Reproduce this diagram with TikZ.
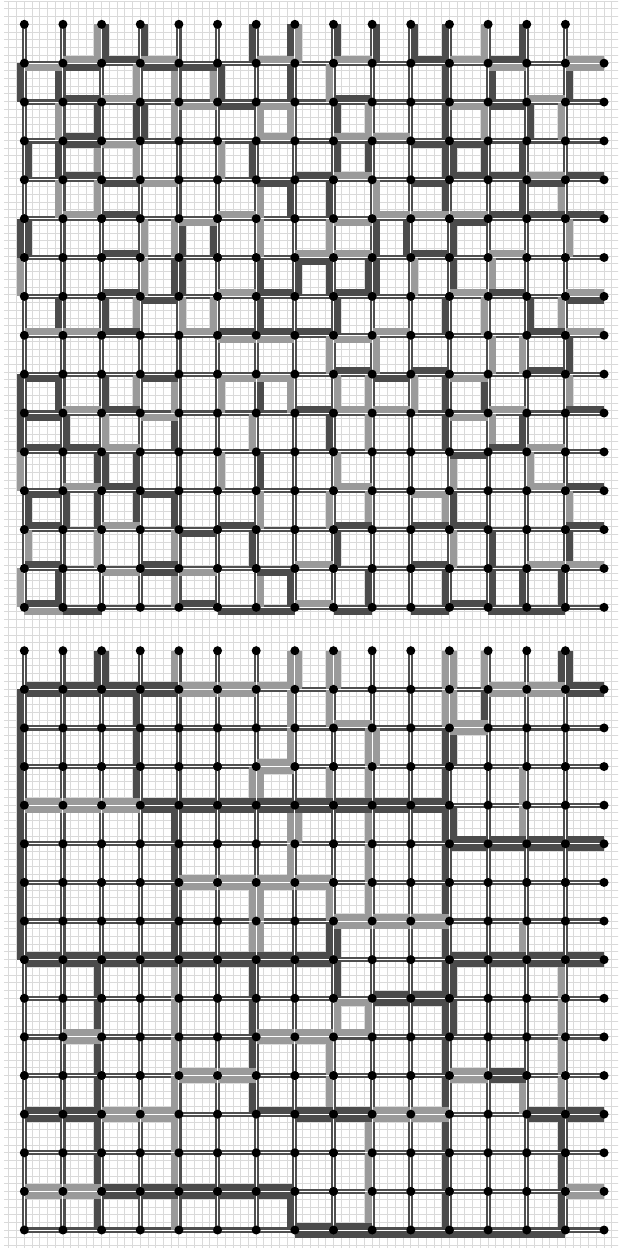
\documentclass[tikz,border=0pt]{standalone}
\usetikzlibrary{backgrounds}
\definecolor{dk}{HTML}{4B4B4B}
\definecolor{lt}{HTML}{9A9A9A}
\definecolor{edgeCol}{HTML}{4F4F4F}
\definecolor{gridCol}{HTML}{DADADA}
\pgfdeclarelayer{edges}
\pgfdeclarelayer{bands}
\pgfdeclarelayer{cores}
\pgfsetlayers{background,edges,bands,cores,main}

\begin{document}
\begin{tikzpicture}[x=1pt, y=-1pt,
    site/.style={circle, fill=black, inner sep=0pt, minimum size=9pt},
    bond/.style={line width=5.2pt, draw=edgeCol},
    core/.style={line width=1pt, draw=white},
    band/.style={line cap=butt},
    gridline/.style={draw=gridCol, line width=0.9pt}
]
\useasboundingbox (0,0) rectangle (621,1249);

% =====================================================================
% FINE GRID
% =====================================================================
\begin{scope}[on background layer]
    \clip (4,2) rectangle (618,1247);
    \draw[gridline, step=7.73pt, shift={(24.3pt,-24.3pt)}] (-25pt,25pt) grid (600pt,-1230pt);
\end{scope}

% =====================================================================
% SITES OF THE TWO LATTICES (t = top, b = bottom)
% =====================================================================
\foreach \p/\yo/\ys in {t/24.3/38.87, b/650.7/38.62} {
    \begin{scope}[shift={(24.3pt,-\yo pt)}, x=38.65pt, y=-\ys pt]
        \foreach \c in {0,...,14} \node[site] (\p-\c-0) at (\c,0) {};
        \foreach \r in {1,...,15}
            \foreach \c in {0,...,15} \node[site] (\p-\c-\r) at (\c,\r) {};
    \end{scope}
}

% =====================================================================
% BONDS
% =====================================================================
\begin{pgfonlayer}{edges}
    \foreach \p in {t,b}
        \foreach \c in {0,...,14} {
            \pgfmathtruncatemacro\cc{\c+1}
            \foreach \r in {0,...,14} {
                \pgfmathtruncatemacro\rr{\r+1}
                \draw[bond] (\p-\c-\r.center) -- (\p-\c-\rr.center);
                \draw[bond] (\p-\c-\rr.center) -- (\p-\cc-\rr.center);
            }
        }
\end{pgfonlayer}
\begin{pgfonlayer}{cores}
    \foreach \p in {t,b}
        \foreach \c in {0,...,14} {
            \pgfmathtruncatemacro\cc{\c+1}
            \foreach \r in {0,...,14} {
                \pgfmathtruncatemacro\rr{\r+1}
                \draw[core] (\p-\c-\r.center) -- (\p-\c-\rr.center);
                \draw[core] (\p-\c-\rr.center) -- (\p-\cc-\rr.center);
            }
        }
\end{pgfonlayer}

% =====================================================================
% BANDS: column/row/side/colour (side -1 = left or up, 1 = right or down, 0 = both)
% =====================================================================
\begin{pgfonlayer}{bands}
    % Top lattice, vertical bonds
    \foreach \c/\r/\s/\k in {
        2/0/-1/lt, 2/0/1/dk, 3/0/1/dk, 6/0/-1/dk, 7/0/-1/dk, 7/0/1/lt, 8/0/1/dk, 9/0/1/dk, 10/0/1/dk, 11/0/-1/dk, 12/0/-1/lt, 13/0/-1/dk,
        0/1/-1/dk, 1/1/-1/dk, 3/1/-1/lt, 4/1/-1/lt, 5/1/-1/lt, 5/1/1/dk, 7/1/-1/dk, 8/1/-1/lt, 11/1/-1/dk, 12/1/1/dk, 14/1/1/dk,
        1/2/-1/lt, 2/2/-1/dk, 3/2/0/dk, 4/2/-1/lt, 6/2/1/lt, 7/2/-1/lt, 8/2/1/dk, 9/2/-1/lt, 11/2/-1/dk, 12/2/-1/lt, 13/2/1/dk, 14/2/-1/lt,
        0/3/1/dk, 1/3/-1/dk, 2/3/-1/lt, 3/3/-1/lt, 5/3/1/lt, 6/3/-1/dk, 8/3/1/dk, 9/3/-1/dk, 11/3/0/dk, 12/3/-1/dk, 13/3/-1/dk,
        1/4/-1/lt, 2/4/-1/lt, 6/4/1/lt, 7/4/-1/dk, 8/4/-1/dk, 9/4/1/lt, 11/4/-1/dk, 13/4/-1/dk, 14/4/-1/lt,
        0/5/0/dk, 3/5/1/lt, 4/5/-1/lt, 4/5/1/dk, 5/5/-1/dk, 6/5/1/lt, 8/5/-1/lt, 9/5/1/dk, 10/5/-1/dk, 11/5/1/dk, 14/5/1/lt,
        0/6/-1/lt, 3/6/1/lt, 4/6/0/dk, 6/6/1/dk, 7/6/1/dk, 8/6/-1/dk, 9/6/0/dk, 10/6/1/lt, 11/6/1/dk, 12/6/1/lt,
        1/7/-1/dk, 2/7/1/dk, 3/7/-1/lt, 4/7/1/lt, 5/7/-1/lt, 6/7/1/dk, 8/7/1/dk, 11/7/-1/dk, 12/7/-1/lt, 13/7/1/dk, 14/7/-1/lt,
        8/8/-1/lt, 9/8/1/lt, 12/8/1/lt, 13/8/-1/lt, 14/8/1/dk,
        0/9/-1/dk, 1/9/-1/dk, 2/9/1/dk, 3/9/-1/lt, 4/9/-1/lt, 5/9/1/lt, 6/9/1/dk, 7/9/-1/lt, 8/9/1/lt, 9/9/-1/lt, 10/9/1/lt, 11/9/-1/dk, 12/9/-1/dk, 14/9/1/lt,
        0/10/-1/dk, 1/10/1/dk, 2/10/1/lt, 4/10/-1/dk, 6/10/-1/lt, 8/10/-1/dk, 9/10/-1/lt, 11/10/-1/dk, 12/10/1/lt, 13/10/-1/dk,
        0/11/-1/lt, 2/11/0/dk, 3/11/-1/dk, 5/11/1/lt, 6/11/1/dk, 8/11/1/lt, 11/11/1/lt, 13/11/1/lt,
        0/12/1/dk, 1/12/1/dk, 2/12/-1/dk, 3/12/-1/dk, 4/12/-1/dk, 6/12/1/lt, 8/12/-1/lt, 9/12/-1/lt, 11/12/-1/lt, 11/12/1/dk, 14/12/1/lt,
        0/13/1/lt, 2/13/-1/lt, 4/13/-1/lt, 6/13/-1/dk, 8/13/1/dk, 11/13/1/lt, 12/13/1/dk, 14/13/1/dk,
        0/14/-1/lt, 1/14/-1/dk, 4/14/-1/lt, 6/14/1/lt, 7/14/-1/dk, 9/14/-1/dk, 11/14/-1/dk, 12/14/1/dk, 13/14/-1/dk, 14/14/-1/dk} {
        \pgfmathtruncatemacro\rr{\r+1}
        \draw[band, line width={(15-8*abs(\s))*1pt}, draw=\k]
            ([xshift=\s*4pt]t-\c-\r.center) -- ([xshift=\s*4pt]t-\c-\rr.center);
    }
    % Top lattice, horizontal bonds
    \foreach \c/\r/\s/\k in {
        0/1/1/lt, 1/1/-1/lt, 1/1/1/dk, 2/1/-1/dk, 3/1/-1/lt, 3/1/1/dk, 4/1/1/dk, 6/1/-1/lt, 8/1/-1/lt, 10/1/-1/dk, 11/1/-1/lt, 12/1/-1/dk, 12/1/1/lt, 14/1/0/lt,
        1/2/-1/dk, 2/2/-1/lt, 4/2/1/lt, 5/2/1/dk, 6/2/1/lt, 8/2/-1/dk, 11/2/1/lt, 12/2/1/dk, 13/2/-1/lt,
        1/3/0/dk, 2/3/1/lt, 6/3/-1/lt, 8/3/-1/lt, 9/3/-1/lt, 10/3/1/dk, 11/3/1/dk,
        1/4/-1/dk, 2/4/1/dk, 3/4/1/lt, 6/4/1/dk, 7/4/-1/dk, 8/4/-1/lt, 10/4/1/dk, 11/4/-1/dk, 12/4/-1/dk, 13/4/-1/lt, 13/4/1/dk, 14/4/-1/dk,
        1/5/-1/lt, 2/5/-1/dk, 4/5/1/lt, 5/5/-1/lt, 8/5/1/lt, 9/5/-1/lt, 10/5/-1/lt, 11/5/-1/lt, 11/5/1/dk, 12/5/-1/dk, 13/5/-1/dk, 14/5/-1/dk,
        2/6/-1/dk, 7/6/-1/lt, 7/6/1/dk, 8/6/-1/lt, 10/6/-1/dk, 12/6/-1/lt,
        2/7/-1/dk, 3/7/1/dk, 5/7/-1/lt, 6/7/-1/dk, 8/7/-1/dk, 11/7/-1/lt, 12/7/-1/dk, 14/7/-1/lt, 14/7/1/dk,
        0/8/-1/lt, 1/8/-1/lt, 2/8/-1/dk, 4/8/-1/lt, 5/8/-1/dk, 5/8/1/lt, 6/8/-1/dk, 6/8/1/lt, 7/8/-1/dk, 8/8/1/lt, 9/8/-1/lt, 13/8/-1/dk, 14/8/-1/lt,
        0/9/1/dk, 3/9/1/dk, 5/9/1/lt, 6/9/1/lt, 8/9/-1/dk, 9/9/1/dk, 10/9/-1/dk, 11/9/1/lt, 13/9/-1/dk,
        0/10/1/dk, 1/10/-1/lt, 2/10/-1/dk, 3/10/1/lt, 7/10/-1/dk, 8/10/-1/lt, 9/10/-1/lt, 11/10/1/lt, 12/10/-1/lt, 14/10/-1/dk,
        0/11/-1/dk, 1/11/-1/dk, 2/11/-1/lt, 11/11/1/dk, 12/11/-1/dk, 13/11/-1/lt,
        0/12/1/dk, 1/12/-1/lt, 2/12/-1/dk, 3/12/1/dk, 8/12/-1/lt, 10/12/1/lt, 13/12/-1/lt, 14/12/-1/dk,
        0/13/-1/dk, 2/13/-1/lt, 4/13/1/dk, 5/13/-1/dk, 8/13/-1/dk, 10/13/-1/dk, 11/13/-1/dk, 14/13/-1/dk,
        0/14/-1/dk, 2/14/1/lt, 3/14/0/dk, 4/14/1/lt, 6/14/1/dk, 7/14/-1/lt, 10/14/-1/dk, 13/14/-1/lt, 14/14/-1/lt,
        0/15/-1/dk, 0/15/1/lt, 1/15/1/dk, 4/15/-1/dk, 5/15/1/dk, 6/15/1/dk, 7/15/-1/lt, 8/15/1/dk, 10/15/1/dk, 11/15/-1/dk, 12/15/1/dk, 13/15/1/dk} {
        \pgfmathtruncatemacro\cc{\c+1}
        \draw[band, line width={(15-8*abs(\s))*1pt}, draw=\k]
            ([yshift={\s*(-4pt)}]t-\c-\r.center) -- ([yshift={\s*(-4pt)}]t-\cc-\r.center);
    }
    % Bottom lattice, vertical bonds
    \foreach \c/\r/\s/\k in {
        2/0/0/dk, 4/0/-1/lt, 7/0/0/lt, 8/0/0/lt, 11/0/0/lt, 12/0/-1/lt, 14/0/0/dk,
        0/1/-1/dk, 0/2/-1/dk, 0/3/-1/dk, 0/4/-1/dk, 0/5/-1/dk, 0/6/-1/dk, 0/7/-1/dk,
        3/1/-1/dk, 3/2/-1/dk, 3/3/-1/dk,
        7/1/-1/lt, 7/2/-1/lt, 8/1/-1/lt, 11/1/0/lt, 12/1/-1/dk,
        9/2/0/lt, 9/3/-1/lt, 9/4/-1/lt, 9/5/-1/lt, 9/6/-1/lt,
        11/2/0/dk, 11/3/-1/dk, 11/4/0/dk, 11/5/-1/dk, 11/6/-1/dk, 11/7/-1/dk, 11/8/0/dk, 11/9/0/dk,
        11/10/-1/dk, 11/11/-1/dk, 11/12/-1/dk, 11/13/-1/dk, 11/14/-1/dk,
        6/3/0/lt, 8/3/-1/lt, 13/3/-1/lt, 13/4/-1/lt,
        4/4/-1/dk, 4/5/-1/dk, 4/6/-1/dk, 4/7/-1/dk,
        7/4/0/lt, 7/5/-1/lt, 8/6/-1/lt,
        6/6/0/lt, 6/7/0/lt, 8/7/0/dk, 13/7/-1/lt,
        2/8/-1/dk, 2/9/-1/dk, 2/10/-1/dk, 2/11/-1/dk, 2/12/-1/dk, 2/13/-1/dk, 2/14/-1/dk,
        4/8/-1/lt, 4/9/-1/lt, 4/10/-1/lt, 4/11/-1/lt, 4/12/-1/lt, 4/13/-1/lt, 4/14/-1/lt,
        6/8/-1/dk, 6/9/-1/dk, 6/10/-1/dk, 6/11/-1/dk,
        8/8/1/dk, 8/9/1/lt, 8/10/-1/lt, 8/11/-1/lt,
        9/9/-1/lt, 9/12/-1/lt, 9/13/-1/lt, 9/14/-1/lt,
        14/8/-1/lt, 14/9/-1/lt, 14/10/-1/lt, 14/11/-1/lt, 14/12/-1/dk, 14/13/-1/dk, 14/14/-1/dk,
        13/11/-1/lt, 7/14/-1/dk} {
        \pgfmathtruncatemacro\rr{\r+1}
        \draw[band, line width={(15-8*abs(\s))*1pt}, draw=\k]
            ([xshift=\s*4pt]b-\c-\r.center) -- ([xshift=\s*4pt]b-\c-\rr.center);
    }
    % Bottom lattice, horizontal bonds
    \foreach \c/\r/\s/\k in {
        0/1/0/dk, 1/1/0/dk, 2/1/0/dk, 3/1/0/dk, 4/1/0/lt, 5/1/0/lt, 6/1/-1/lt, 12/1/0/lt, 13/1/0/lt, 14/1/0/dk,
        8/2/-1/lt, 11/2/0/lt, 6/3/0/lt,
        0/4/0/lt, 1/4/0/lt, 2/4/0/lt, 3/4/0/dk, 4/4/0/dk, 5/4/0/dk, 6/4/0/dk, 7/4/0/dk, 8/4/0/dk, 9/4/0/dk, 10/4/0/dk,
        11/5/0/dk, 12/5/0/dk, 13/5/0/dk, 14/5/0/dk,
        4/6/0/lt, 5/6/0/lt, 6/6/0/lt, 7/6/0/lt,
        8/7/0/lt, 9/7/0/lt, 10/7/0/lt,
        0/8/0/dk, 1/8/0/dk, 2/8/0/dk, 3/8/0/dk, 4/8/0/dk, 5/8/0/dk, 6/8/0/dk, 7/8/0/dk,
        11/8/0/dk, 12/8/0/dk, 13/8/0/dk, 14/8/0/dk,
        8/9/1/lt, 9/9/0/dk, 10/9/0/dk,
        1/10/0/lt, 6/10/0/lt, 7/10/0/lt, 8/10/-1/lt,
        4/11/0/lt, 5/11/0/lt, 11/11/0/lt, 12/11/0/dk,
        0/12/0/dk, 1/12/0/dk, 2/12/0/lt, 3/12/0/lt, 6/12/-1/dk, 7/12/0/dk, 8/12/0/dk, 9/12/0/lt, 10/12/0/lt, 13/12/0/dk, 14/12/0/dk,
        0/14/0/lt, 1/14/0/lt, 2/14/0/dk, 3/14/0/dk, 4/14/0/dk, 5/14/0/dk, 6/14/0/dk, 14/14/0/lt,
        7/15/0/dk, 8/15/0/dk, 9/15/1/dk, 10/15/1/dk, 11/15/1/dk, 12/15/1/dk, 13/15/1/dk} {
        \pgfmathtruncatemacro\cc{\c+1}
        \draw[band, line width={(15-8*abs(\s))*1pt}, draw=\k]
            ([yshift={\s*(-4pt)}]b-\c-\r.center) -- ([yshift={\s*(-4pt)}]b-\cc-\r.center);
    }
\end{pgfonlayer}

\end{tikzpicture}
\end{document}
